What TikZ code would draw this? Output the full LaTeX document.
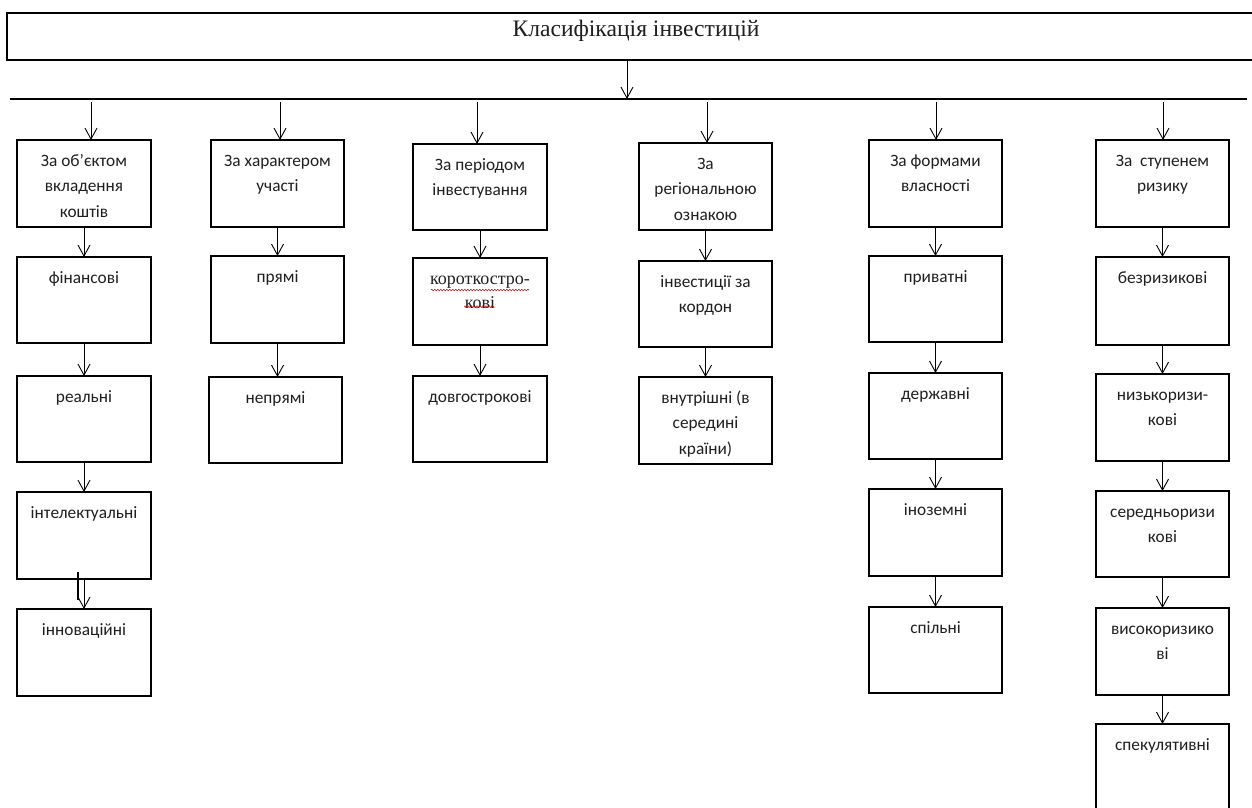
\documentclass[tikz,border=0pt]{standalone}
\usepackage{fontspec}
\setmainfont{Carlito}
\newfontfamily\serifcyr{Liberation Serif}
\usetikzlibrary{arrows.meta,decorations.pathmorphing}
\newcommand\bx[7][]{%
  \node[box, minimum width={#5-#3}, minimum height={#6-#4}] (#2) at ({(#3+#5)/2},{(#4+#6)/2}) {};
  \node[lbl,#1] (#2t) at ([yshift=-12pt]#2.north) {\rule{0pt}{14pt}#7};}
\begin{document}
\begin{tikzpicture}[x=1pt,y=-1pt,
  box/.style={draw=black, line width=1.9pt, inner sep=0pt, outer sep=0pt},
  lbl/.style={anchor=north, align=center, inner sep=0pt, text=black!88,
              font=\fontsize{17.3}{25.5}\selectfont},
  serifl/.style={font=\serifcyr\fontsize{18}{24}\selectfont},
  arr/.style={-{Straight Barb[length=11pt,width=12pt]}, line width=0.9pt},
  hline/.style={line width=1.2pt}]
\useasboundingbox (0,0) rectangle (1252,807);
\clip (0,0) rectangle (1252,807);
% title
\node[draw=black, line width=1.2pt, inner sep=0pt, minimum width=1260, minimum height=47] (title) at (637,36.5) {};
\node[font=\serifcyr\fontsize{23.6}{28}\selectfont, text=black!88, inner sep=0pt] (titletext) at (636,31) {Класифікація інвестицій};
% main horizontal line
\coordinate (hlL) at (10,99);
\coordinate (hlR) at (1247,99);
\draw[hline] (hlL) -- (hlR);
\coordinate (tarrow) at (627,99);
\draw[arr] (title.south -| tarrow) -- (tarrow);
% column 1
\bx{b11}{17}{140}{151}{227}{За об’єктом\\вкладення\\коштів}
\bx{b12}{17}{257}{151}{343}{фінансові}
\bx{b13}{17}{376}{151}{462}{реальні}
\bx{b14}{17}{492}{151}{579}{інтелектуальні}
\bx{b15}{17}{609}{151}{696}{інноваційні}
% column 2
\bx{b21}{211}{140}{344}{227}{За характером\\участі}
\bx{b22}{211}{256}{344}{343}{прямі}
\bx{b23}{209}{377}{342}{463}{непрямі}
% column 3
\bx{b31}{413}{144}{547}{230}{За періодом\\інвестування}
\bx[serifl]{b32}{413}{258}{547}{345}{короткостро-\\кові}
\bx{b33}{413}{376}{547}{462}{довгострокові}
% column 4
\bx{b41}{639}{143}{772}{230}{За\\регіональною\\ознакою}
\bx{b42}{639}{261}{772}{347}{інвестиції за\\кордон}
\bx{b43}{639}{377}{772}{464}{внутрішні (в\\середині\\країни)}
% column 5
\bx{b51}{869}{140}{1002}{227}{За формами\\власності}
\bx{b52}{869}{256}{1002}{342}{приватні}
\bx{b53}{869}{373}{1002}{459}{державні}
\bx{b54}{869}{489}{1002}{576}{іноземні}
\bx{b55}{869}{607}{1002}{693}{спільні}
% column 6
\bx{b61}{1096}{140}{1229}{227}{За~ ступенем\\ризику}
\bx{b62}{1096}{257}{1229}{345}{безризикові}
\bx{b63}{1096}{374}{1229}{461}{низькоризи-\\кові}
\bx{b64}{1096}{491}{1229}{577}{середньоризи\\кові}
\bx{b65}{1096}{608}{1229}{695}{високоризико\\ві}
\bx{b66}{1096}{724}{1229}{830}{спекулятивні}
% arrows from the line to the column heads
\foreach \k/\x/\b in {k1/91/b11, k2/280/b21, k3/477/b31, k4/707/b41, k5/936/b51, k6/1163/b61}{
  \coordinate (\k) at (\x,102);
  \draw[arr] (\k) -- (\k |- \b.north);
}
% arrows inside the columns
\foreach \a/\b in {b11/b12, b12/b13, b13/b14, b14/b15,
                   b21/b22, b22/b23,
                   b31/b32, b32/b33,
                   b41/b42, b42/b43,
                   b51/b52, b52/b53, b53/b54, b54/b55,
                   b61/b62, b62/b63, b63/b64, b64/b65, b65/b66}{
  \draw[arr] (\a.south) -- (\a.south |- \b.north);
}
% stray thick mark in column 1
\coordinate (m1) at (78,572);
\coordinate (m2) at (78,600);
\draw[line width=2.4pt] (m1) -- (m2);
% red wavy spell-check underline
\draw[red!70!black, line width=0.5pt, decorate, decoration={snake, amplitude=0.8pt, segment length=3pt}]
  ([xshift=1pt,yshift=-20pt]b32t.north west) -- ([xshift=-1pt,yshift=-20pt]b32t.north east);
\draw[red!70!black, line width=0.5pt, decorate, decoration={snake, amplitude=0.8pt, segment length=3pt}]
  ([xshift=-16pt,yshift=2pt]b32t.south) -- ([xshift=14pt,yshift=2pt]b32t.south);
\end{tikzpicture}
\end{document}
